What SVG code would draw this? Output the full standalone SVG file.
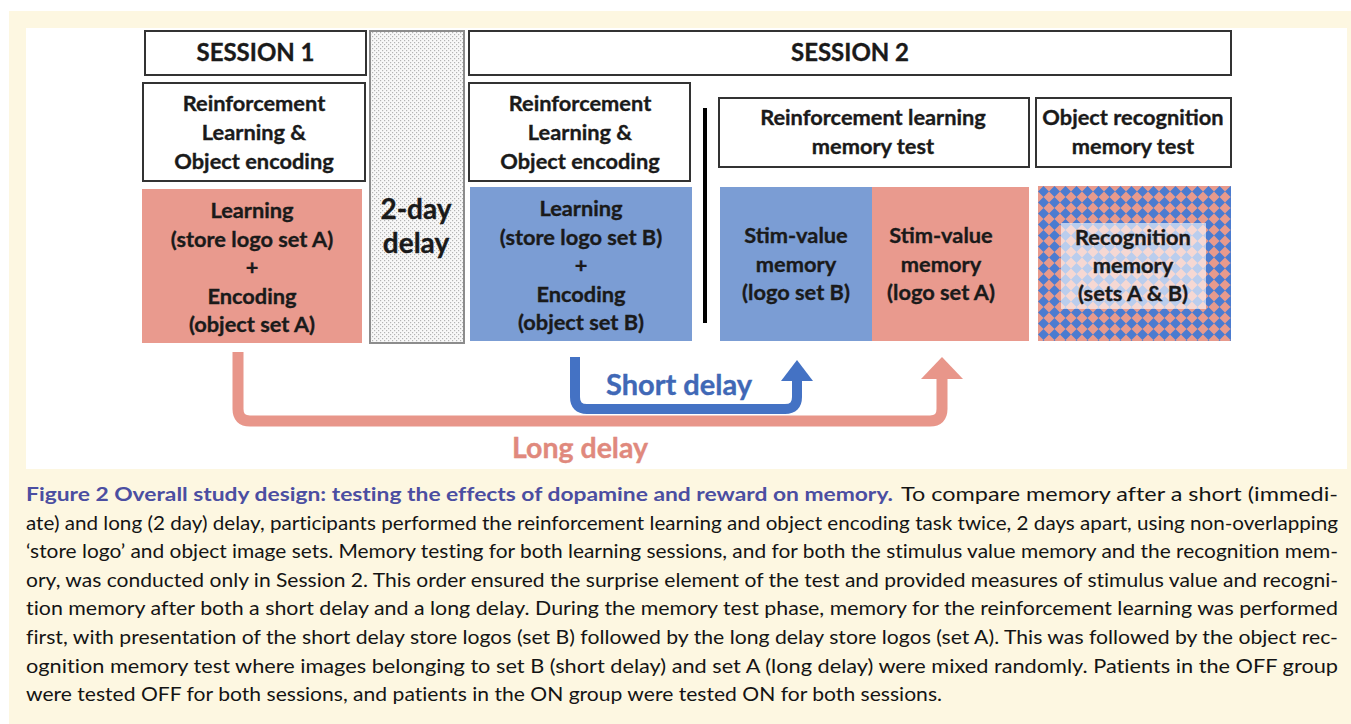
<svg xmlns="http://www.w3.org/2000/svg" width="1351" height="724" viewBox="0 0 1351 724">
  <style>
    .frame { fill: #ffffff; stroke: #333333; stroke-width: 2; }
    .lbl { font-family: Lato, "Liberation Sans", sans-serif; font-weight: 700; fill: #1a1a1a; text-anchor: middle; stroke: #1a1a1a; stroke-width: 0.35; }
    .hdr { font-size: 24px; }
    .sub { font-size: 21.8px; }
    .big { font-size: 28px; }
    .cap { font-family: Lato, "Open Sans", "Liberation Sans", sans-serif; font-size: 19px; fill: #141414; font-variant-ligatures: none; }
    .capt { font-family: Lato, "Open Sans", "Liberation Sans", sans-serif; font-size: 19px; font-weight: 700; fill: #4b4ea1; font-variant-ligatures: none; }
  </style>
  <defs>
    <pattern id="dots" width="4" height="4" patternUnits="userSpaceOnUse">
      <rect width="4" height="4" fill="#f8f8f8"/>
      <rect x="0" y="0" width="1.2" height="1.2" fill="#b4b4b4"/>
      <rect x="2" y="2" width="1.2" height="1.2" fill="#b4b4b4"/>
    </pattern>
    <pattern id="diamonds" x="1038" y="186" width="11" height="11" patternUnits="userSpaceOnUse">
      <rect width="11" height="11" fill="#e89a8c"/>
      <polygon points="5.5,0 11,5.5 5.5,11 0,5.5" fill="#4a7bd0"/>
    </pattern>
  </defs>

  <!-- page background and figure panel -->
  <rect x="0" y="0" width="1351" height="724" fill="#ffffff"/>
  <rect x="9" y="11" width="1342" height="713" fill="#fdf7e1"/>
  <rect x="26" y="28" width="1321" height="441" fill="#ffffff"/>

  <!-- session headers -->
  <g id="session1">
    <rect class="frame" x="145" y="31" width="221" height="44"/>
    <text class="lbl hdr" x="255.5" y="61">SESSION 1</text>
  </g>
  <g id="session2">
    <rect class="frame" x="469" y="31" width="762" height="44"/>
    <text class="lbl hdr" x="850" y="61">SESSION 2</text>
  </g>

  <!-- delay between sessions -->
  <g id="delay">
    <rect x="370" y="31" width="94" height="312" fill="url(#dots)" stroke="#8c8c8c" stroke-width="2"/>
    <text class="lbl big" x="416" y="219">2-day</text>
    <text class="lbl big" x="416" y="253">delay</text>
  </g>

  <!-- session 1 task -->
  <g id="task1">
    <rect class="frame" x="143" y="83" width="222" height="98"/>
    <text class="lbl sub" x="254" y="111">Reinforcement</text>
    <text class="lbl sub" x="254" y="140">Learning &amp;</text>
    <text class="lbl sub" x="254" y="169">Object encoding</text>
  </g>
  <g id="learnA">
    <rect x="142" y="189" width="220" height="154" fill="#e99a8e"/>
    <text class="lbl sub" x="252" y="218">Learning</text>
    <text class="lbl sub" x="252" y="247">(store logo set A)</text>
    <text class="lbl sub" x="252" y="275">+</text>
    <text class="lbl sub" x="252" y="304">Encoding</text>
    <text class="lbl sub" x="252" y="332">(object set A)</text>
  </g>

  <!-- session 2 task -->
  <g id="task2">
    <rect class="frame" x="469" y="83" width="221" height="98"/>
    <text class="lbl sub" x="580" y="111">Reinforcement</text>
    <text class="lbl sub" x="580" y="140">Learning &amp;</text>
    <text class="lbl sub" x="580" y="169">Object encoding</text>
  </g>
  <g id="learnB">
    <rect x="470" y="187" width="222" height="154" fill="#7b9dd4"/>
    <text class="lbl sub" x="581" y="216">Learning</text>
    <text class="lbl sub" x="581" y="245">(store logo set B)</text>
    <text class="lbl sub" x="581" y="273">+</text>
    <text class="lbl sub" x="581" y="302">Encoding</text>
    <text class="lbl sub" x="581" y="330">(object set B)</text>
  </g>

  <!-- separator between learning and testing -->
  <rect id="divider" x="703" y="108" width="4" height="215" fill="#000000"/>

  <!-- memory tests -->
  <g id="rlTest">
    <rect class="frame" x="719" y="98" width="310" height="69"/>
    <text class="lbl sub" x="873" y="125">Reinforcement learning</text>
    <text class="lbl sub" x="873" y="154">memory test</text>
  </g>
  <g id="stimB">
    <rect x="720" y="187" width="152" height="154" fill="#7b9dd4"/>
    <text class="lbl sub" x="796" y="243">Stim-value</text>
    <text class="lbl sub" x="796" y="272">memory</text>
    <text class="lbl sub" x="796" y="300">(logo set B)</text>
  </g>
  <g id="stimA">
    <rect x="872" y="187" width="157" height="154" fill="#e99a8e"/>
    <text class="lbl sub" x="941" y="243">Stim-value</text>
    <text class="lbl sub" x="941" y="272">memory</text>
    <text class="lbl sub" x="941" y="300">(logo set A)</text>
  </g>
  <g id="objTest">
    <rect class="frame" x="1036" y="98" width="195" height="69"/>
    <text class="lbl sub" x="1133" y="125">Object recognition</text>
    <text class="lbl sub" x="1133" y="154">memory test</text>
  </g>
  <g id="recognition">
    <rect x="1038" y="186" width="193" height="155" fill="url(#diamonds)"/>
    <rect x="1061" y="223" width="145" height="86" fill="#ffffff" fill-opacity="0.62"/>
    <text class="lbl sub" x="1133" y="245">Recognition</text>
    <text class="lbl sub" x="1133" y="273">memory</text>
    <text class="lbl sub" x="1133" y="301">(sets A &amp; B)</text>
  </g>

  <!-- delay connectors -->
  <g id="connectors">
    <path d="M238 352 V409 Q238 421 250 421 H930 Q942 421 942 409 V376" fill="none" stroke="#e8968a" stroke-width="11"/>
    <polygon points="921,379 942,357 963,379" fill="#e8968a"/>
    <path d="M575 357 V397 Q575 409 587 409 H785 Q797 409 797 397 V378" fill="none" stroke="#4472c4" stroke-width="10"/>
    <polygon points="781,381 797,360 813,381" fill="#4472c4"/>
    <text class="lbl" font-size="29" x="679" y="395" style="fill:#4068b6; stroke:#4068b6">Short delay</text>
    <text class="lbl" font-size="28.5" x="580" y="458" style="fill:#e0897d; stroke:#e0897d">Long delay</text>
  </g>

  <!-- caption -->
  <g id="caption">
    <text class="capt" x="26" y="501" textLength="867" lengthAdjust="spacingAndGlyphs">Figure 2 Overall study design: testing the effects of dopamine and reward on memory.</text>
    <text class="cap" x="901" y="501" textLength="437" lengthAdjust="spacingAndGlyphs">To compare memory after a short (immedi-</text>
    <text class="cap" x="26" y="530" textLength="1312" lengthAdjust="spacingAndGlyphs">ate) and long (2 day) delay, participants performed the reinforcement learning and object encoding task twice, 2 days apart, using non-overlapping</text>
    <text class="cap" x="26" y="558" textLength="1312" lengthAdjust="spacingAndGlyphs">‘store logo’ and object image sets. Memory testing for both learning sessions, and for both the stimulus value memory and the recognition mem-</text>
    <text class="cap" x="26" y="587" textLength="1312" lengthAdjust="spacingAndGlyphs">ory, was conducted only in Session 2. This order ensured the surprise element of the test and provided measures of stimulus value and recogni-</text>
    <text class="cap" x="26" y="615" textLength="1312" lengthAdjust="spacingAndGlyphs">tion memory after both a short delay and a long delay. During the memory test phase, memory for the reinforcement learning was performed</text>
    <text class="cap" x="26" y="644" textLength="1312" lengthAdjust="spacingAndGlyphs">first, with presentation of the short delay store logos (set B) followed by the long delay store logos (set A). This was followed by the object rec-</text>
    <text class="cap" x="26" y="673" textLength="1312" lengthAdjust="spacingAndGlyphs">ognition memory test where images belonging to set B (short delay) and set A (long delay) were mixed randomly. Patients in the OFF group</text>
    <text class="cap" x="26" y="701" textLength="916" lengthAdjust="spacingAndGlyphs">were tested OFF for both sessions, and patients in the ON group were tested ON for both sessions.</text>
  </g>
</svg>
